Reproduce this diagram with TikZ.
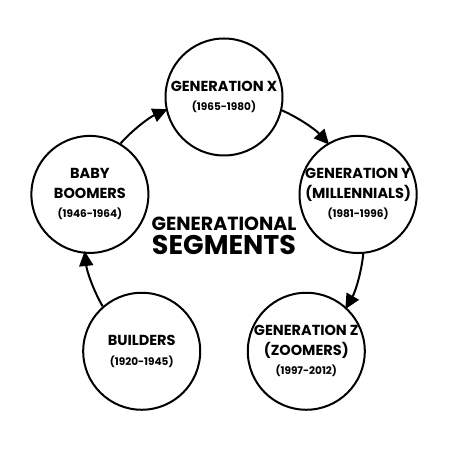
\documentclass[tikz,border=0pt]{standalone}
\usepackage{fontspec}
\setmainfont{Poppins}
\usetikzlibrary{arrows.meta}
\newcommand{\yrs}[1]{{\fontsize{10.5}{12}\selectfont #1}}

\begin{document}
\begin{tikzpicture}[x=1pt,y=1pt,
    gen/.style={circle, draw, line width=2pt, minimum size=117pt, inner sep=0pt,
      align=center, font=\bfseries\fontsize{14.5}{19.5}\selectfont},
    flow/.style={-{Triangle[length=15pt,width=14pt]}, line width=2pt}]
  \useasboundingbox[fill=white] (-224,-232) rectangle (226,238);

  \node[gen] (genx) at (90:141) {GENERATION X\\\yrs{(1965-1980)}};
  \node[gen] (geny) at (18:141) {GENERATION Y\\(MILLENNIALS)\\\yrs{(1981-1996)}};
  \node[gen] (genz) at (-54:140) {GENERATION Z\\(ZOOMERS)\\\yrs{(1997-2012)}};
  \node[gen] (builders) at (234:140) {BUILDERS\\\yrs{(1920-1945)}};
  \node[gen] (boomers) at (162:141) {BABY\\BOOMERS\\\yrs{(1946-1964)}};

  \node[font=\bfseries\fontsize{19}{20}\selectfont] (titletop) at (0,14) {GENERATIONAL};
  \node[font=\bfseries\fontsize{27}{28}\selectfont] (titlebot) at (0,-7) {SEGMENTS};

  \draw[flow] (builders.131) arc[start angle=210, end angle=186, radius=140];
  \draw[flow] (boomers.59) arc[start angle=138, end angle=114, radius=140];
  \draw[flow] (genx.-13) arc[start angle=66, end angle=42, radius=140];
  \draw[flow] (geny.-85) arc[start angle=-6, end angle=-30, radius=140];
\end{tikzpicture}
\end{document}
